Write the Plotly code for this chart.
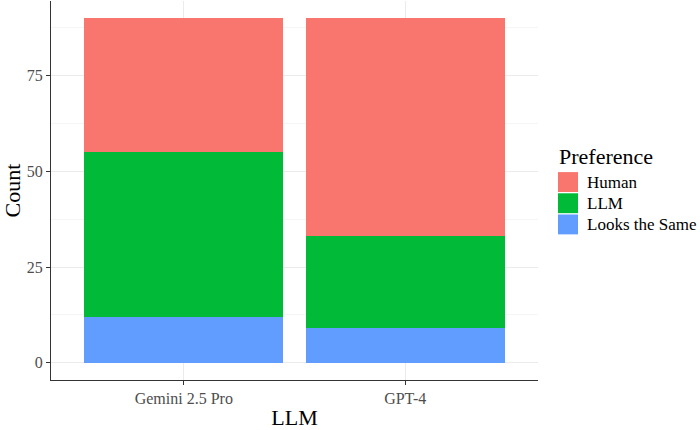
import plotly.graph_objects as go

llms = ["Gemini 2.5 Pro", "GPT-4"]
preferences = ["Human", "LLM", "Looks the Same"]
human = [35, 57]
llm = [43, 24]
same = [12, 9]
colors = {"Human": "#F8766D", "LLM": "#00BA38", "Looks the Same": "#619CFF"}
series = {"Human": human, "LLM": llm, "Looks the Same": same}
y_ticks = [0, 25, 50, 75]

FONT = "Liberation Serif, Times New Roman, serif"

fig = go.Figure()
for name in ["Looks the Same", "LLM", "Human"]:
    fig.add_trace(go.Bar(x=llms, y=series[name], name=name,
                         marker=dict(color=colors[name], line=dict(width=0)),
                         showlegend=False))

fig.update_layout(
    barmode="stack", bargap=0.1,
    width=700, height=430,
    margin=dict(l=51, r=162, t=1, b=48),
    paper_bgcolor="white", plot_bgcolor="white",
    font=dict(family=FONT, color="#4D4D4D"),
)
fig.update_xaxes(
    range=[-0.6, 1.6], showgrid=True, gridcolor="#EBEBEB", gridwidth=1,
    showline=True, linecolor="#333333", linewidth=1.2,
    ticks="outside", ticklen=4, tickcolor="#333333",
    tickfont=dict(size=16, color="#4D4D4D", family=FONT),
    title=dict(text="LLM", font=dict(size=22, color="black", family=FONT), standoff=6),
    zeroline=False,
)
fig.update_yaxes(
    range=[-4.5, 94.5], tickvals=y_ticks, showgrid=True, gridcolor="#EBEBEB", gridwidth=1,
    minor=dict(dtick=12.5, tick0=0, showgrid=True, gridcolor="#F5F5F5", gridwidth=1),
    showline=True, linecolor="#333333", linewidth=1.2,
    ticks="outside", ticklen=4, tickcolor="#333333",
    tickfont=dict(size=16, color="#4D4D4D", family=FONT),
    title=dict(text="Count", font=dict(size=22, color="black", family=FONT), standoff=8),
    zeroline=False,
)

# legend drawn manually (ggplot-style keys)
pw, ph = 487, 381
def px(x):
    return (x - 51) / pw
def py(y):
    return (382 - y) / ph

fig.add_annotation(x=px(557), y=py(157), xref="paper", yref="paper", text="Preference",
                   showarrow=False, xanchor="left", yanchor="middle",
                   font=dict(size=22, color="black", family=FONT))
for i, name in enumerate(preferences):
    top = 173 + i * 21.3
    fig.add_shape(type="rect", xref="paper", yref="paper",
                  x0=px(558), x1=px(578), y0=py(top + 20), y1=py(top),
                  fillcolor=colors[name], line=dict(width=0))
    fig.add_annotation(x=px(585), y=py(top + 10), xref="paper", yref="paper", text=name,
                       showarrow=False, xanchor="left", yanchor="middle",
                       font=dict(size=17, color="black", family=FONT))

fig.write_html("out.html")
